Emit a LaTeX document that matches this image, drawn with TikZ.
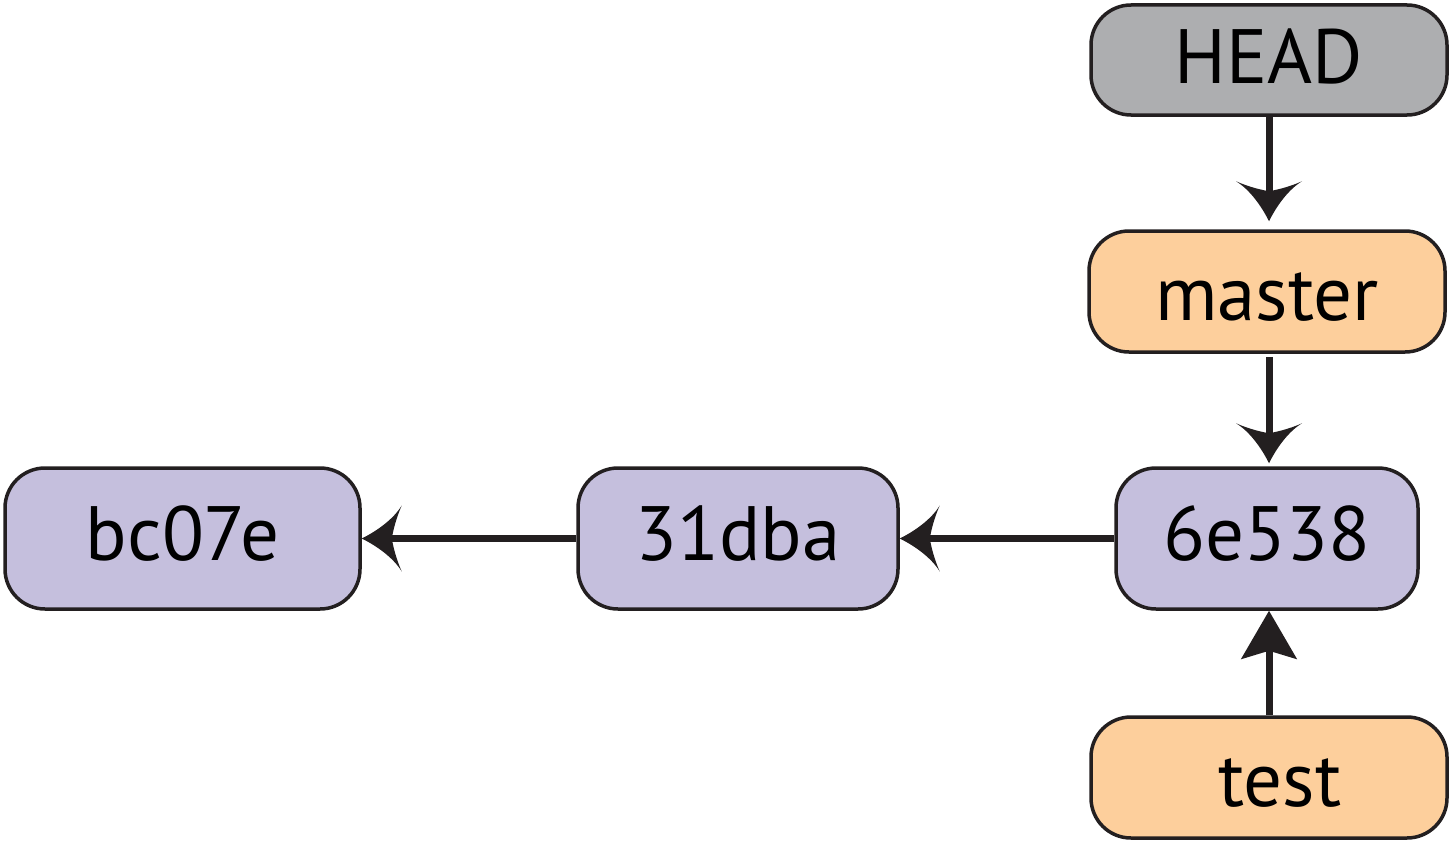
\documentclass[tikz,border=0pt]{standalone}
\usepackage{fontspec}
\setmainfont{PT Sans}
\usetikzlibrary{arrows.meta}
\pgfdeclarearrow{
  name=Curvy,
  parameters={\the\pgfarrowlength,\the\pgfarrowwidth},
  setup code={
    \pgfarrowssettipend{0pt}
    \pgfarrowssetlineend{-0.6\pgfarrowlength}
    \pgfarrowssetbackend{-\pgfarrowlength}
    \pgfarrowsupperhullpoint{-\pgfarrowlength}{.5\pgfarrowwidth}
    \pgfarrowsupperhullpoint{0pt}{0pt}
    \pgfarrowssavethe\pgfarrowlength
    \pgfarrowssavethe\pgfarrowwidth
  },
  drawing code={
    \pgfpathmoveto{\pgfqpoint{0pt}{0pt}}
    \pgfpathcurveto{\pgfqpoint{-.4\pgfarrowlength}{.12\pgfarrowwidth}}{\pgfqpoint{-.8\pgfarrowlength}{.3\pgfarrowwidth}}{\pgfqpoint{-\pgfarrowlength}{.5\pgfarrowwidth}}
    \pgfpathcurveto{\pgfqpoint{-.85\pgfarrowlength}{.3\pgfarrowwidth}}{\pgfqpoint{-.78\pgfarrowlength}{.1\pgfarrowwidth}}{\pgfqpoint{-.75\pgfarrowlength}{0pt}}
    \pgfpathcurveto{\pgfqpoint{-.78\pgfarrowlength}{-.1\pgfarrowwidth}}{\pgfqpoint{-.85\pgfarrowlength}{-.3\pgfarrowwidth}}{\pgfqpoint{-\pgfarrowlength}{-.5\pgfarrowwidth}}
    \pgfpathcurveto{\pgfqpoint{-.8\pgfarrowlength}{-.3\pgfarrowwidth}}{\pgfqpoint{-.4\pgfarrowlength}{-.12\pgfarrowwidth}}{\pgfqpoint{0pt}{0pt}}
    \pgfpathclose
    \pgfusepathqfill
  },
  defaults={length=40pt, width=66pt}
}
\definecolor{strk}{HTML}{231F20}
\definecolor{headgray}{HTML}{ADAEB0}
\definecolor{branch}{HTML}{FDCF9C}
\definecolor{commit}{HTML}{C5BFDD}
\begin{document}
\begin{tikzpicture}[x=1pt,y=-1pt,
  box/.style={draw=strk, line width=3.5pt, rounded corners=40pt, inner sep=0pt,
    text depth=0pt, font=\fontsize{77}{82}\selectfont, text=black},
  headbox/.style={box, fill=headgray, text height=46pt},
  branchbox/.style={box, fill=branch, text height=58pt},
  commitbox/.style={box, fill=commit, text height=43pt},
  conn/.style={draw=strk, line width=7pt, -{Curvy[length=40pt,width=66pt]}},
  upconn/.style={draw=strk, line width=7pt, -{Stealth[length=48pt,width=55pt,inset=8pt]}}
]
\useasboundingbox (0,0) rectangle (1451,843);
\node[headbox, minimum width=356pt, minimum height=110pt] (head) at (1269,60) {HEAD};
\node[branchbox, minimum width=356pt, minimum height=121pt] (master) at (1267,291.5) {master};
\node[commitbox, minimum width=355pt, minimum height=141pt] (c1) at (182.5,538.5) {bc07e};
\node[commitbox, minimum width=320pt, minimum height=141pt] (c2) at (738,538.5) {31dba};
\node[commitbox, minimum width=302pt, minimum height=141pt] (c3) at (1267,538.5) {6e538};
\node[branchbox, minimum width=356pt, minimum height=121pt] (test) at (1269,777.5) {\kern22pt test};
\draw[conn, shorten >=8pt] (head.south) -- (head.south |- master.north);
\draw[conn, shorten <=3pt, shorten >=3pt] (master.south -| head.south) -- (c3.north -| head.south);
\draw[conn] (c3.west) -- (c2.east);
\draw[conn] (c2.west) -- (c1.east);
\draw[upconn] (test.north) -- (test.north |- c3.south);
\end{tikzpicture}
\end{document}
